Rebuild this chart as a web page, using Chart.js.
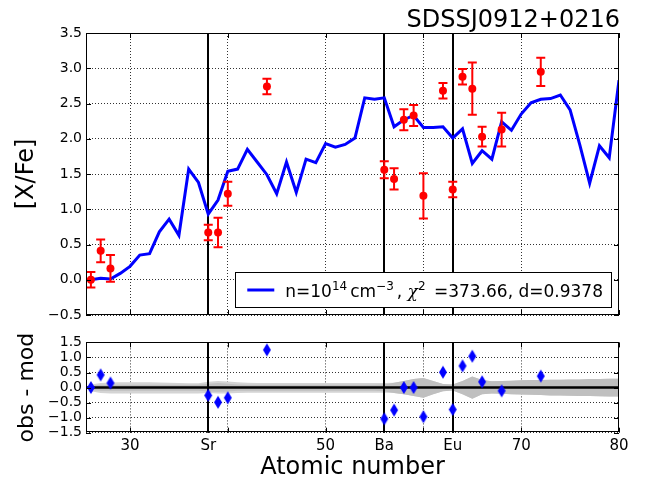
<!DOCTYPE html>
<html>
<head>
<meta charset="utf-8">
<script src="https://cdn.jsdelivr.net/npm/chart.js@4.4.1/dist/chart.umd.min.js"></script>
<style>
  html, body { margin: 0; padding: 0; background: #fff; }
  #wrap { position: relative; width: 645px; height: 483px; }
  canvas { position: absolute; left: 0; }
</style>
</head>
<body>
<div id="wrap">
  <canvas id="top" width="645" height="330" style="top:0px"></canvas>
  <canvas id="bot" width="645" height="153" style="top:330px"></canvas>
</div>
<script>
const FONT = '"DejaVu Sans", sans-serif';

// model curve, one value per atomic number
const modelZ = [26, 27, 28, 29, 30, 31, 32, 33, 34, 35, 36, 37, 38, 39, 40, 41, 42, 43, 44, 45,
                46, 47, 48, 49, 50, 51, 52, 53, 54, 55, 56, 57, 58, 59, 60, 61, 62, 63, 64, 65,
                66, 67, 68, 69, 70, 71, 72, 73, 74, 75, 76, 77, 78, 79, 80];
const modelY = [0.00, 0.02, 0.01, 0.09, 0.19, 0.35, 0.37, 0.68, 0.86, 0.63, 1.57, 1.38, 0.93, 1.13, 1.54, 1.57, 1.85, 1.67, 1.49, 1.22,
                1.67, 1.24, 1.71, 1.66, 1.93, 1.88, 1.92, 2.01, 2.58, 2.56, 2.58, 2.17, 2.27, 2.33, 2.16, 2.16, 2.17, 2.01, 2.14, 1.65,
                1.83, 1.71, 2.24, 2.12, 2.35, 2.51, 2.56, 2.57, 2.62, 2.41, 1.91, 1.37, 1.90, 1.73, 2.83];

// observed abundances
const obsZ   = [26, 27, 28, 38, 39, 40, 44, 56, 57, 58, 59, 60, 62, 63, 64, 65, 66, 68, 72];
const obsY   = [0.00, 0.41, 0.16, 0.67, 0.67, 1.22, 2.74, 1.56, 1.43, 2.27, 2.33, 1.19, 2.68, 1.28, 2.88, 2.71, 2.03, 2.13, 2.95];
const obsErr = [0.11, 0.16, 0.19, 0.11, 0.21, 0.17, 0.11, 0.12, 0.15, 0.15, 0.15, 0.32, 0.11, 0.11, 0.11, 0.37, 0.14, 0.24, 0.20];
const residY = [0.00, 0.42, 0.15, -0.26, -0.49, -0.34, 1.25, -1.04, -0.75, 0.00, 0.00, -0.97, 0.51, -0.73, 0.72, 1.04, 0.19, -0.11, 0.38];

// grey uncertainty band of the residual panel (same Z as modelZ)
const bandOuterHi = [0.10, 0.15, 0.17, 0.18, 0.18, 0.18, 0.18, 0.17, 0.16, 0.15, 0.14, 0.14, 0.19, 0.22, 0.20, 0.18, 0.16, 0.15, 0.15, 0.15,
                     0.15, 0.15, 0.15, 0.15, 0.15, 0.15, 0.15, 0.15, 0.15, 0.15, 0.15, 0.16, 0.22, 0.28, 0.32, 0.22, 0.12, 0.10, 0.22, 0.37,
                     0.25, 0.21, 0.22, 0.23, 0.24, 0.25, 0.25, 0.26, 0.26, 0.27, 0.27, 0.28, 0.28, 0.29, 0.29];
const bandOuterLo = [-0.12, -0.18, -0.20, -0.20, -0.20, -0.20, -0.20, -0.20, -0.20, -0.20, -0.20, -0.20, -0.18, -0.20, -0.20, -0.18, -0.17, -0.17, -0.17, -0.17,
                     -0.17, -0.17, -0.17, -0.17, -0.17, -0.17, -0.17, -0.17, -0.17, -0.17, -0.17, -0.18, -0.22, -0.28, -0.34, -0.22, -0.12, -0.10, -0.22, -0.37,
                     -0.22, -0.20, -0.21, -0.22, -0.23, -0.24, -0.25, -0.26, -0.26, -0.27, -0.28, -0.28, -0.29, -0.30, -0.30];
const bandInnerHi = [0.07, 0.09, 0.09, 0.09, 0.09, 0.09, 0.09, 0.09, 0.09, 0.09, 0.09, 0.09, 0.13, 0.15, 0.13, 0.10, 0.09, 0.09, 0.09, 0.09,
                     0.09, 0.09, 0.09, 0.09, 0.09, 0.09, 0.09, 0.09, 0.09, 0.09, 0.10, 0.16, 0.22, 0.28, 0.32, 0.22, 0.12, 0.10, 0.22, 0.37,
                     0.25, 0.21, 0.22, 0.23, 0.24, 0.25, 0.25, 0.26, 0.26, 0.27, 0.27, 0.28, 0.28, 0.29, 0.29];
const bandInnerLo = [-0.08, -0.11, -0.11, -0.11, -0.11, -0.11, -0.11, -0.11, -0.11, -0.11, -0.11, -0.11, -0.13, -0.14, -0.13, -0.11, -0.11, -0.11, -0.11, -0.11,
                     -0.11, -0.11, -0.11, -0.11, -0.11, -0.11, -0.11, -0.11, -0.11, -0.11, -0.12, -0.18, -0.22, -0.28, -0.34, -0.22, -0.12, -0.10, -0.22, -0.37,
                     -0.22, -0.20, -0.21, -0.22, -0.23, -0.24, -0.25, -0.26, -0.26, -0.27, -0.28, -0.28, -0.29, -0.30, -0.30];

// x axis: ticks, labels, dotted grid positions and solid element markers
const xTickVals = [30, 38, 40, 50, 56, 60, 63, 70, 80];
const xTickText = ['30', 'Sr', '', '50', 'Ba', '', 'Eu', '70', '80'];
const gridZ = [30, 40, 50, 60, 70];
const markZ = [38, 56, 63];

const titleText = 'SDSSJ0912+0216';
// legend label pieces: [text, 0 normal / 1 superscript / 2 italic]
const legendParts = [['n=10', 0], ['14', 1], ['cm', 0], ['\u22123', 1], [', ', 0], ['\u03c7', 2], ['2', 1], [' =373.66, d=0.9378', 0]];

const pts = (xs, ys) => xs.map((x, i) => ({x: x, y: ys[i]}));
const fmtTick = v => (v < 0 ? '\u2212' : '') + Math.abs(v).toFixed(1);

// thin blue diamond marker
const diamond = document.createElement('canvas');
diamond.width = 10;
diamond.height = 15;
let dctx = diamond.getContext('2d');
dctx.fillStyle = '#0000ff';
dctx.beginPath();
dctx.moveTo(5, 1); dctx.lineTo(9, 7.5); dctx.lineTo(5, 14); dctx.lineTo(1, 7.5);
dctx.closePath();
dctx.fill();

const drawMarkers = (chart) => {
    const ctx = chart.ctx, a = chart.chartArea, x = chart.scales.x;
    ctx.save();
    ctx.strokeStyle = '#000';
    ctx.lineWidth = 2;
    ctx.beginPath();
    markZ.forEach(z => {
        const px = Math.round(x.getPixelForValue(z));
        ctx.moveTo(px, a.top);
        ctx.lineTo(px, a.bottom);
    });
    ctx.stroke();
    ctx.restore();
}

// box round the axes and inward tick marks, matplotlib classic look
const drawFrame = (chart) => {
    const ctx = chart.ctx, a = chart.chartArea, x = chart.scales.x, y = chart.scales.y;
    ctx.save();
    ctx.strokeStyle = '#000';
    ctx.lineWidth = 1;
    ctx.strokeRect(Math.round(a.left) + 0.5, Math.round(a.top) + 0.5,
                   Math.round(a.right - a.left) - 1, Math.round(a.bottom - a.top) - 1);
    ctx.beginPath();
    x.ticks.forEach(t => {
        const px = Math.round(x.getPixelForValue(t.value)) + 0.5;
        ctx.moveTo(px, a.bottom); ctx.lineTo(px, a.bottom - 5);
        ctx.moveTo(px, a.top); ctx.lineTo(px, a.top + 5);
    });
    y.ticks.forEach(t => {
        const py = Math.round(y.getPixelForValue(t.value)) + 0.5;
        ctx.moveTo(a.left, py); ctx.lineTo(a.left + 5, py);
        ctx.moveTo(a.right, py); ctx.lineTo(a.right - 5, py);
    });
    ctx.stroke();
    ctx.restore();
}

const drawYLabel = (chart, text, size, cx, cy) => {
    const ctx = chart.ctx;
    ctx.save();
    ctx.translate(cx, cy);
    ctx.rotate(-Math.PI / 2);
    ctx.font = size + 'px ' + FONT;
    ctx.fillStyle = '#000';
    ctx.textAlign = 'center';
    ctx.textBaseline = 'middle';
    ctx.fillText(text, 0, 0);
    ctx.restore();
}

const topPlugin = {
    id: 'topExtras',
    beforeDatasetsDraw(chart) {
        drawMarkers(chart);
    },
    afterDatasetDraw(chart, args) {
        if (args.index !== 0) return;
        // error bars go above the model line, under the red dots
        const ctx = chart.ctx, x = chart.scales.x, y = chart.scales.y;
        ctx.save();
        ctx.strokeStyle = '#ff0000';
        ctx.lineWidth = 2;
        ctx.beginPath();
        obsZ.forEach((z, i) => {
            const px = x.getPixelForValue(z);
            const y1 = y.getPixelForValue(obsY[i] - obsErr[i]);
            const y2 = y.getPixelForValue(obsY[i] + obsErr[i]);
            ctx.moveTo(px, y1); ctx.lineTo(px, y2);
            ctx.moveTo(px - 4.5, y1); ctx.lineTo(px + 4.5, y1);
            ctx.moveTo(px - 4.5, y2); ctx.lineTo(px + 4.5, y2);
        });
        ctx.stroke();
        ctx.restore();
    },
    afterDraw(chart) {
        const ctx = chart.ctx, a = chart.chartArea;
        drawFrame(chart);

        // title
        ctx.save();
        ctx.font = '24px ' + FONT;
        ctx.fillStyle = '#000';
        ctx.textAlign = 'right';
        ctx.textBaseline = 'alphabetic';
        ctx.fillText(titleText, a.right + 1, 27);
        ctx.restore();

        drawYLabel(chart, '[X/Fe]', 24, 27, (a.top + a.bottom) / 2);

        // legend box, lower right
        const big = '17px ' + FONT, small = '12px ' + FONT, ital = 'italic 17px "DejaVu Serif", serif';
        const fontOf = p => p[1] === 1 ? small : (p[1] === 2 ? ital : big);
        const gapOf = p => p[1] === 1 ? 3 : 0;
        ctx.save();
        let w = 0;
        legendParts.forEach(p => {
            ctx.font = fontOf(p);
            w += ctx.measureText(p[0]).width + gapOf(p);
        });
        const boxR = a.right - 8, boxB = a.bottom - 8;
        const boxW = 12 + 27 + 11 + w + 8, boxH = 35;
        const boxL = boxR - boxW, boxT = boxB - boxH;
        ctx.fillStyle = '#fff';
        ctx.fillRect(boxL, boxT, boxW, boxH);
        ctx.strokeStyle = '#000';
        ctx.lineWidth = 1;
        ctx.strokeRect(Math.round(boxL) + 0.5, Math.round(boxT) + 0.5, Math.round(boxW), Math.round(boxH));
        ctx.strokeStyle = chart.data.datasets[0].borderColor;
        ctx.lineWidth = 3;
        ctx.beginPath();
        ctx.moveTo(boxL + 12, boxT + 18);
        ctx.lineTo(boxL + 39, boxT + 18);
        ctx.stroke();
        ctx.fillStyle = '#000';
        ctx.textAlign = 'left';
        ctx.textBaseline = 'alphabetic';
        let tx = boxL + 50;
        const base = boxT + 25;
        legendParts.forEach(p => {
            ctx.font = fontOf(p);
            ctx.fillText(p[0], tx, p[1] === 1 ? base - 7 : base);
            tx += ctx.measureText(p[0]).width + gapOf(p);
        });
        ctx.restore();
    }
};

const botPlugin = {
    id: 'botExtras',
    afterDatasetDraw(chart, args) {
        if (args.index !== 2) return;
        // zero line and element markers sit over the grey band
        const ctx = chart.ctx, a = chart.chartArea, y = chart.scales.y;
        ctx.save();
        ctx.strokeStyle = '#000';
        ctx.lineWidth = 2.5;
        ctx.beginPath();
        const py = y.getPixelForValue(0);
        ctx.moveTo(a.left, py);
        ctx.lineTo(a.right, py);
        ctx.stroke();
        ctx.restore();
        drawMarkers(chart);
    },
    afterDraw(chart) {
        const ctx = chart.ctx, a = chart.chartArea;
        drawFrame(chart);
        drawYLabel(chart, 'obs - mod', 22, 27, (a.top + a.bottom) / 2);
        ctx.save();
        ctx.font = '24px ' + FONT;
        ctx.fillStyle = '#000';
        ctx.textAlign = 'center';
        ctx.textBaseline = 'alphabetic';
        ctx.fillText('Atomic number', (a.left + a.right) / 2, 144);
        ctx.restore();
    }
};

const xScale = (showLabels, height) => ({
    type: 'linear',
    min: 25.5,
    max: 80,
    afterBuildTicks: axis => { axis.ticks = xTickVals.map(v => ({value: v})); },
    afterFit: s => { s.height = height; },
    grid: {
        drawTicks: false,
        lineWidth: 1,
        color: c => (c.tick && gridZ.includes(c.tick.value)) ? 'rgba(0,0,0,0.8)' : 'rgba(0,0,0,0)'
    },
    border: { display: false, dash: [1, 2] },
    ticks: {
        display: showLabels,
        autoSkip: false,
        maxRotation: 0,
        minRotation: 0,
        padding: 4,
        color: '#000',
        font: { family: FONT, size: 15 },
        callback: (v, i) => xTickText[i]
    }
});

const yScale = (min, max) => ({
    type: 'linear',
    min: min,
    max: max,
    afterFit: s => { s.width = 86; },
    grid: { drawTicks: false, lineWidth: 1, color: 'rgba(0,0,0,0.8)' },
    border: { display: false, dash: [1, 2] },
    ticks: {
        stepSize: 0.5,
        autoSkip: false,
        padding: 4,
        color: '#000',
        font: { family: FONT, size: 14 },
        callback: v => fmtTick(v)
    }
});

let topChart = new Chart(document.getElementById('top').getContext('2d'), {
    type: 'scatter',
    data: {
        datasets: [
            {
                label: 'model',
                data: pts(modelZ, modelY),
                showLine: true,
                borderColor: '#0000ff',
                borderWidth: 3,
                pointRadius: 0,
                tension: 0,
                order: 2
            },
            {
                label: 'observed',
                data: pts(obsZ, obsY),
                backgroundColor: '#ff0000',
                borderColor: '#ff0000',
                pointRadius: 4,
                borderWidth: 0,
                order: 1
            }
        ]
    },
    options: {
        responsive: false,
        animation: false,
        events: [],
        layout: { padding: { left: 0, top: 33, right: 26, bottom: 15 } },
        plugins: { legend: { display: false }, tooltip: { enabled: false } },
        scales: { x: xScale(false, 0), y: yScale(-0.5, 3.5) }
    },
    plugins: [topPlugin]
});

let botChart = new Chart(document.getElementById('bot').getContext('2d'), {
    type: 'scatter',
    data: {
        datasets: [
            {
                data: pts(modelZ, bandOuterHi), showLine: true, fill: '+1',
                backgroundColor: '#d4d4d4', borderColor: 'rgba(0,0,0,0)', borderWidth: 0, pointRadius: 0, order: 6
            },
            {
                data: pts(modelZ, bandOuterLo), showLine: true, fill: false,
                borderColor: 'rgba(0,0,0,0)', borderWidth: 0, pointRadius: 0, order: 7
            },
            {
                data: pts(modelZ, bandInnerHi), showLine: true, fill: '+1',
                backgroundColor: '#bfbfbf', borderColor: 'rgba(0,0,0,0)', borderWidth: 0, pointRadius: 0, order: 4
            },
            {
                data: pts(modelZ, bandInnerLo), showLine: true, fill: false,
                borderColor: 'rgba(0,0,0,0)', borderWidth: 0, pointRadius: 0, order: 5
            },
            {
                label: 'obs - mod',
                data: pts(obsZ, residY),
                pointStyle: diamond,
                pointRadius: 7,
                order: 1
            }
        ]
    },
    options: {
        responsive: false,
        animation: false,
        events: [],
        layout: { padding: { left: 0, top: 9, right: 26, bottom: 0 } },
        plugins: { legend: { display: false }, tooltip: { enabled: false } },
        scales: { x: xScale(true, 50.3), y: yScale(-1.5, 1.5) }
    },
    plugins: [botPlugin]
});
</script>
</body>
</html>
